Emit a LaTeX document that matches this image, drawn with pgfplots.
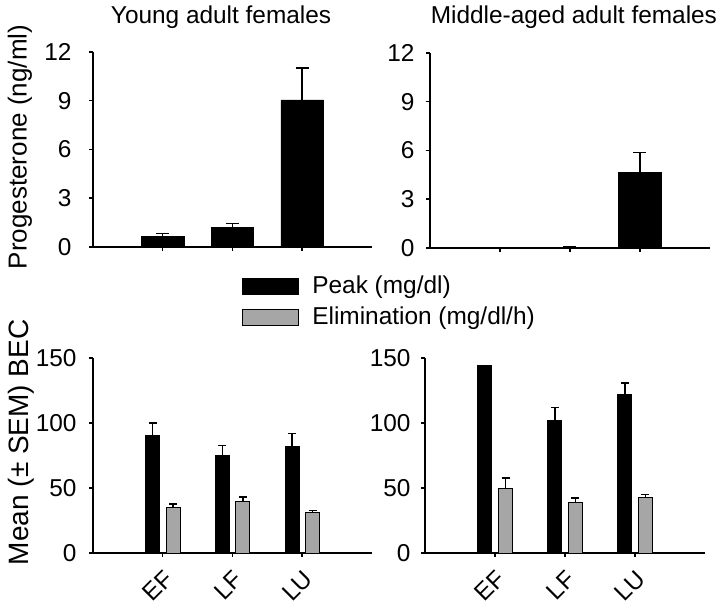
\documentclass[border=0pt]{standalone}
\usepackage{pgfplots}
\pgfplotsset{compat=1.18}
\usepackage{fontspec}
\setmainfont{Liberation Sans}
\definecolor{bargray}{RGB}{166,166,166}
\begin{document}
\fontsize{12.2}{14.6}\selectfont
\begin{tikzpicture}
\path[use as bounding box] (0,0) rectangle (362pt,303pt);
\pgfplotsset{
  every axis title shift=0pt,
  panel/.style={
    scale only axis,
    anchor=south west,
    axis x line*=bottom, axis y line*=left,
    axis line style={line width=0.75pt, -},
    every tick/.style={line width=0.75pt, black},
    major tick length=2pt,
    tick align=outside,
    xmin=-1, xmax=3,
    xtick={0,1,2},
    ymin=0,
    /pgf/number format/assume math mode=true,
    font=\fontsize{12.2}{14.6}\selectfont,
    clip=false,
  },
  errstyle/.style={
    error bars/.cd, y dir=plus, y explicit,
    error mark=-,
    error bar style={line width=0.75pt, black},
    error mark options={rotate=90, mark size=#1, line width=0.75pt, black},
  },
}
% ---------------- top left ----------------
\begin{axis}[panel, at={(46.5pt,179.5pt)}, width=139.5pt, height=97.5pt,
  ymax=12, ytick={0,3,6,9,12}, xticklabels={},
  ybar, bar width=0.61,
  title={Young adult females},
  title style={at={(axis description cs:0.459,1.145)}, anchor=base},
  ylabel={Progesterone (ng/ml)},
  ylabel style={at={(axis description cs:-0.262,0.513)}, anchor=center,
    font=\fontsize{13}{15.6}\selectfont},
  yticklabel style={xshift=-4.5pt}]
\addplot[fill=black, draw=black, errstyle=3.25pt] coordinates {
  (0,0.64) +- (0,0.20)
  (1,1.23) +- (0,0.21)
  (2,9.05) +- (0,1.95)
};
\end{axis}
% ---------------- top right ----------------
\begin{axis}[panel, at={(215pt,179pt)}, width=140pt, height=97.5pt,
  ymax=12, ytick={0,3,6,9,12}, xticklabels={},
  ybar, bar width=0.61,
  title={Middle-aged adult females},
  title style={at={(axis description cs:0.514,1.149)}, anchor=base},
  yticklabel style={xshift=-1.5pt}]
\addplot[fill=black, draw=black, errstyle=3.25pt] coordinates {
  (0,0) +- (0,0)
  (1,0.05) +- (0,0.05)
  (2,4.66) +- (0,1.23)
};
\end{axis}
% ---------------- bottom left ----------------
\begin{axis}[panel, at={(46.5pt,26.5pt)}, width=139.5pt, height=97.5pt,
  ymax=150, ytick={0,50,100,150},
  xticklabels={EF,LF,LU},
  xticklabel style={rotate=45, anchor=north east},
  ybar, bar width=0.2,
  ylabel={Mean (± SEM) BEC},
  ylabel style={at={(axis description cs:-0.258,0.568)}, anchor=center,
    font=\fontsize{14}{16.8}\selectfont},
  yticklabel style={xshift=-2pt},
  legend style={at={(axis description cs:0.534,1.446)}, anchor=north west,
    draw=none, fill=none, inner sep=0pt, row sep=1.25pt,
    /tikz/every odd column/.append style={column sep=4.5pt},
    font=\fontsize{12.2}{14.6}\selectfont},
  legend cell align=left,
  legend image code/.code={\draw[#1, line width=0.5pt] (0pt,-4pt) rectangle (28pt,4pt);}]
\addplot[bar shift=-0.145, fill=black, draw=black, errstyle=2pt] coordinates {
  (0,90.5) +- (0,9.5)
  (1,74.9) +- (0,7.9)
  (2,82.1) +- (0,10.0)
};
\addlegendentry{Peak (mg/dl)}
\addplot[bar shift=0.15, fill=bargray, draw=black, line width=0.5pt, errstyle=2pt] coordinates {
  (0,34.9) +- (0,2.8)
  (1,39.7) +- (0,3.4)
  (2,31.0) +- (0,1.8)
};
\addlegendentry{Elimination (mg/dl/h)}
\end{axis}
% ---------------- bottom right ----------------
\begin{axis}[panel, at={(212.5pt,26.5pt)}, width=140pt, height=97.5pt,
  ymax=150, ytick={0,50,100,150},
  xticklabels={EF,LF,LU},
  xticklabel style={rotate=45, anchor=north east},
  ybar, bar width=0.2,
  yticklabel style={xshift=-1pt}]
\addplot[bar shift=-0.145, fill=black, draw=black, errstyle=2pt] coordinates {
  (0,144.4) +- (0,0)
  (1,102.2) +- (0,9.8)
  (2,122.0) +- (0,8.7)
};
\addplot[bar shift=0.15, fill=bargray, draw=black, line width=0.5pt, errstyle=2pt] coordinates {
  (0,49.8) +- (0,8.0)
  (1,38.5) +- (0,3.9)
  (2,42.4) +- (0,2.6)
};
\end{axis}
\end{tikzpicture}
\end{document}
